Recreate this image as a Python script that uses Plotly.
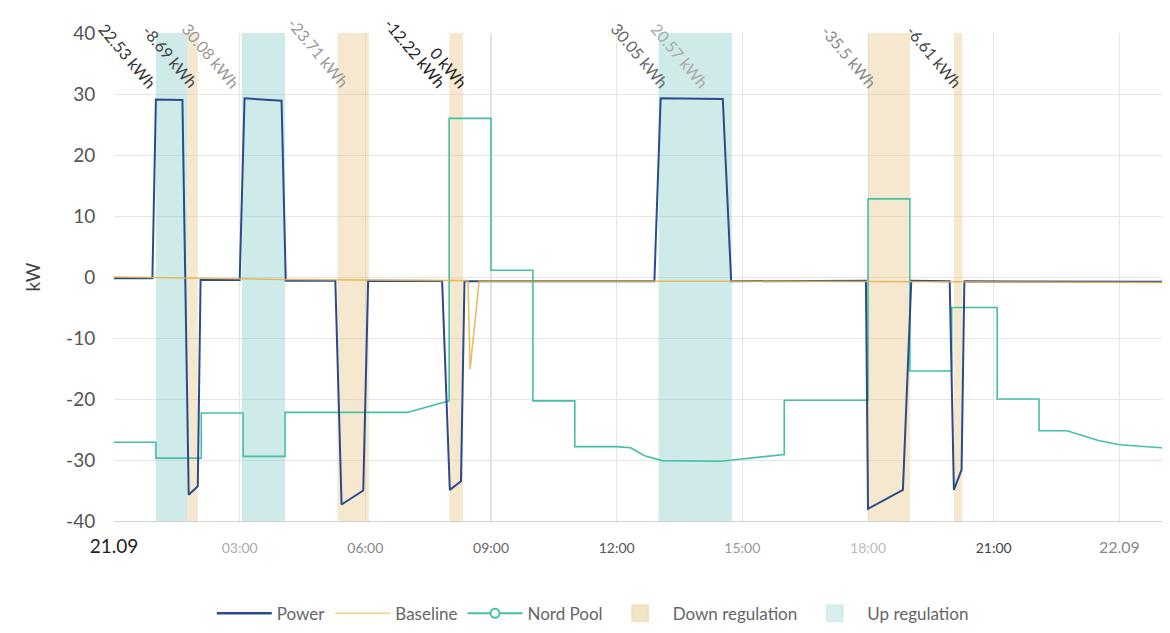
import plotly.graph_objects as go
import pandas as pd

DAY = pd.Timestamp("2023-09-21")

def t(hm):
    h, m = hm.split(":")
    return DAY + pd.Timedelta(hours=int(h), minutes=int(m))

# ---------------- data ----------------
power_t = ["00:00", "00:55", "01:00", "01:38", "01:47", "02:00", "02:04", "03:00", "03:07",
           "04:00", "04:06", "05:17", "05:26", "05:57", "06:04", "07:50", "08:01", "08:17",
           "08:22", "12:54", "13:03", "14:32", "14:44", "17:57", "18:00", "18:50", "19:02",
           "19:57", "20:03", "20:14", "20:18", "25:30"]
power_v = [-0.2, -0.2, 29.1, 29.0, -35.7, -34.3, -0.5, -0.5, 29.3,
           28.9, -0.6, -0.6, -37.3, -35.0, -0.6, -0.65, -34.9, -33.5,
           -0.7, -0.7, 29.3, 29.2, -0.7, -0.6, -38.0, -34.9, -0.6,
           -0.7, -34.9, -31.6, -0.7, -0.8]

base_t = ["00:00", "04:00", "08:27", "08:30", "08:43", "16:00", "25:30"]
base_v = [0.0, -0.4, -0.6, -15.1, -0.7, -0.7, -0.9]

np_t = ["00:00", "01:00", "01:00", "02:05", "02:05", "03:05", "03:05", "04:05", "04:05",
        "07:00", "08:00", "08:00", "09:00", "09:00", "10:00", "10:00", "11:00", "11:00",
        "12:00", "12:20", "12:40", "13:05", "14:30", "15:15", "16:00", "16:00", "18:00",
        "18:00", "19:00", "19:00", "20:00", "20:00", "21:05", "21:05", "22:05", "22:05",
        "22:45", "23:30", "24:00", "25:00", "25:30"]
np_v = [-27.1, -27.1, -29.7, -29.7, -22.3, -22.3, -29.4, -29.4, -22.2,
        -22.2, -20.3, 26.0, 26.0, 1.1, 1.1, -20.3, -20.3, -27.8,
        -27.8, -28.0, -29.3, -30.1, -30.2, -29.7, -29.1, -20.2, -20.2,
        12.8, 12.8, -15.4, -15.4, -5.0, -5.0, -20.0, -20.0, -25.2,
        -25.2, -26.8, -27.5, -28.0, -28.2]

up_start = ["01:00", "03:03", "13:00", "14:00"]
up_end = ["01:45", "04:05", "14:00", "14:45"]
down_start = ["01:45", "05:20", "08:00", "18:00", "20:03"]
down_end = ["02:00", "06:05", "08:20", "19:00", "20:15"]

event_t = ["01:10", "02:10", "03:09", "05:46", "08:04", "08:36", "13:24", "14:21", "18:22", "20:24"]
event_label = ["22.53 kWh", "-8.69 kWh", "30.08 kWh", "-23.71 kWh", "-12.22 kWh", "0 kWh",
               "30.05 kWh", "20.57 kWh", "-35.5 kWh", "-6.61 kWh"]

tick_hours = ["00:00", "03:00", "06:00", "09:00", "12:00", "15:00", "18:00", "21:00", "24:00"]
tick_labels = ["21.09", "03:00", "06:00", "09:00", "12:00", "15:00", "18:00", "21:00", "22.09"]
y_ticks = [-40, -30, -20, -10, 0, 10, 20, 30, 40]
y_tick_labels = ["-40", "-30", "-20", "-10", "0", "10", "20", "30", "40"]

# ---------------- styling ----------------
FONT = "Lato"
C_POWER = "#2a4c8c"
C_BASE = "#e8b24a"
C_NP = "#45c0a8"
C_DOWN = "rgba(232,200,140,0.42)"
C_UP = "rgba(120,200,195,0.36)"
YMIN, YMAX = -40, 40

def rects(starts, ends):
    xs, ys = [], []
    for s, e in zip(starts, ends):
        xs += [t(s), t(e), t(e), t(s), t(s), None]
        ys += [YMIN, YMIN, YMAX, YMAX, YMIN, None]
    return xs, ys

fig = go.Figure()

dx, dy = rects(down_start, down_end)
fig.add_trace(go.Scatter(x=dx, y=dy, fill="toself", fillcolor=C_DOWN, mode="none",
                         showlegend=False, hoverinfo="skip"))
ux, uy = rects(up_start, up_end)
fig.add_trace(go.Scatter(x=ux, y=uy, fill="toself", fillcolor=C_UP, mode="none",
                         showlegend=False, hoverinfo="skip"))

fig.add_trace(go.Scatter(x=[t(s) for s in np_t], y=np_v, mode="lines",
                         line=dict(color=C_NP, width=1.6), showlegend=False))
fig.add_trace(go.Scatter(x=[t(s) for s in power_t], y=power_v, mode="lines",
                         line=dict(color=C_POWER, width=2.0), showlegend=False))
fig.add_trace(go.Scatter(x=[t(s) for s in base_t], y=base_v, mode="lines",
                         line=dict(color=C_BASE, width=1.6), opacity=0.85, showlegend=False))

# legend-only entries
fig.add_trace(go.Scatter(x=[None], y=[None], mode="lines", name="Power",
                         line=dict(color=C_POWER, width=2.5), legendrank=1))
fig.add_trace(go.Scatter(x=[None], y=[None], mode="lines", name="Baseline",
                         line=dict(color="#f2d9a2", width=2), legendrank=2))
fig.add_trace(go.Scatter(x=[None], y=[None], mode="lines+markers", name="Nord Pool",
                         line=dict(color=C_NP, width=2),
                         marker=dict(symbol="circle", size=9, color="white",
                                     line=dict(color=C_NP, width=2)), legendrank=3))
fig.add_trace(go.Scatter(x=[None], y=[None], mode="markers", name="Down regulation",
                         marker=dict(symbol="square", size=16, color="rgba(240,222,185,0.8)",
                                     line=dict(color="rgba(240,222,185,0.8)", width=2)),
                         legendrank=4))
fig.add_trace(go.Scatter(x=[None], y=[None], mode="markers", name="Up regulation",
                         marker=dict(symbol="square", size=16, color="rgba(205,235,232,0.8)",
                                     line=dict(color="rgba(205,235,232,0.8)", width=2)),
                         legendrank=5))

ann_colors = ["#333", "#444", "#999", "#999", "#222", "#222", "#666", "#aaa", "#888", "#444"]
for tm, lab, col in zip(event_t, event_label, ann_colors):
    fig.add_annotation(x=t(tm), y=30, text=lab, textangle=50, showarrow=False,
                       xanchor="right", yanchor="bottom",
                       font=dict(family=FONT, size=16, color=col))

fig.add_shape(type="line", x0=t("09:00"), x1=t("09:00"), y0=YMIN, y1=YMAX,
              line=dict(color="#c8c8c8", width=1.2), layer="below")

tick_cols = ["#222", "#aaa", "#888", "#666", "#555", "#999", "#bbb", "#444", "#888"]
ticktext = []
for lab, col in zip(tick_labels, tick_cols):
    size = 19 if lab == "21.09" else (16 if lab == "22.09" else 14)
    ticktext.append(f"<span style='font-size:{size}px;color:{col}'>{lab}</span>")

fig.update_layout(
    width=1170, height=633,
    margin=dict(l=106, r=0, t=25, b=120),
    paper_bgcolor="white", plot_bgcolor="white",
    font=dict(family=FONT, size=16, color="#666"),
    showlegend=True,
    legend=dict(orientation="h", x=0.45, xanchor="center", y=-0.19, yanchor="middle",
                font=dict(family=FONT, size=17, color="#666"), itemwidth=55,
                bgcolor="rgba(0,0,0,0)"),
    xaxis=dict(type="date", range=[t("00:00"), t("25:24")],
               tickvals=[t(s) for s in tick_hours], ticktext=ticktext,
               showgrid=True, gridcolor="#e4e4e4", gridwidth=1,
               showline=True, linecolor="#d0d0d0", linewidth=1,
               ticks="outside", ticklen=12, tickcolor="rgba(0,0,0,0)",
               zeroline=False),
    yaxis=dict(range=[YMIN, YMAX], tickvals=y_ticks, ticktext=y_tick_labels,
               showgrid=True, gridcolor="#e6e6e6",
               zeroline=False, showline=False,
               ticks="outside", ticklen=14, tickcolor="rgba(0,0,0,0)",
               tickfont=dict(family=FONT, size=19, color="#555"),
               title=dict(text="kW", font=dict(family=FONT, size=19, color="#444"), standoff=20)),
)

fig.write_html("out.html")
